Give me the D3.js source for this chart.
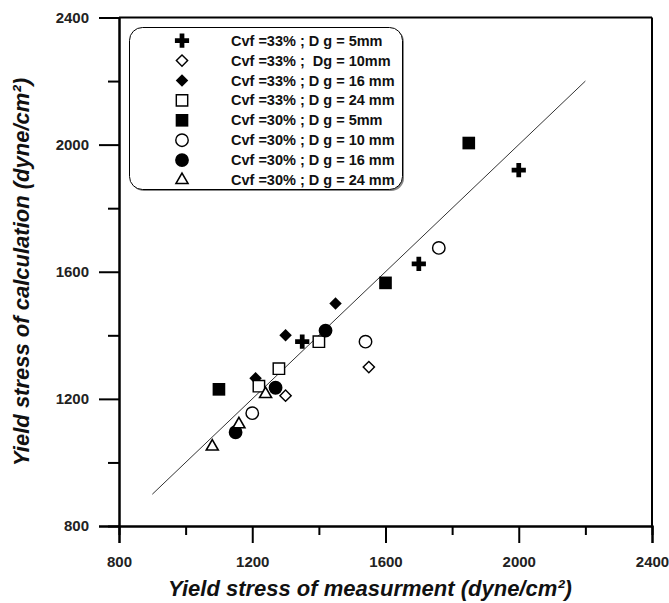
<!DOCTYPE html>
<html>
<head>
<meta charset="utf-8">
<script src="https://cdn.jsdelivr.net/npm/d3@7"></script>
<style>
  body { margin: 0; background: #fff; }
  text { font-family: Arial, "Liberation Sans", sans-serif; }
</style>
</head>
<body>
<div id="chart"></div>
<script>
// legend labels, one per series
var labels = [
  "Cvf =33% ; D g = 5mm",
  "Cvf =33% ;  Dg = 10mm",
  "Cvf =33% ; D g = 16 mm",
  "Cvf =33% ; D g = 24 mm",
  "Cvf =30% ; D g = 5mm",
  "Cvf =30% ; D g = 10 mm",
  "Cvf =30% ; D g = 16 mm",
  "Cvf =30% ; D g = 24 mm"
]
var shapes = ["cross", "diamond", "diamond", "square", "square", "circle", "circle", "triangle"]
var filled = [true, false, true, false, true, false, true, false]

// measured (x) and calculated (y) yield stress, dyne/cm2
var measured = [
  [1350, 1700, 2000],
  [1300, 1550],
  [1210, 1300, 1450],
  [1220, 1280, 1400],
  [1100, 1600, 1850],
  [1200, 1540, 1760],
  [1150, 1270, 1420],
  [1080, 1160, 1240]
]
var calculated = [
  [1380, 1625, 1920],
  [1210, 1300],
  [1265, 1400, 1500],
  [1240, 1295, 1380],
  [1230, 1565, 2005],
  [1155, 1380, 1675],
  [1095, 1235, 1415],
  [1050, 1120, 1215]
]

var majorTicks = [800, 1200, 1600, 2000, 2400]
var minorTicks = [1000, 1400, 1800, 2200]
var fitLine = [900, 2200]  // y = x

var width = 669, height = 603

var svg = d3.select("#chart").append("svg")
    .attr("width", width)
    .attr("height", height)

var x = d3.scaleLinear().domain([800, 2400]).range([119, 652])
var y = d3.scaleLinear().domain([800, 2400]).range([526, 17.5])

function symbolPath(shape) {
  var gen = d3.symbol()
  if (shape == "cross") gen.type(d3.symbolCross).size(112)
  if (shape == "diamond") gen.type(d3.symbolSquare).size(78)
  if (shape == "square") gen.type(d3.symbolSquare).size(160)
  if (shape == "circle") gen.type(d3.symbolCircle).size(150)
  if (shape == "triangle") gen.type(d3.symbolTriangle).size(62)
  return gen()
}

function drawSymbol(g, i, px, py) {
  var rot = shapes[i] == "diamond" ? " rotate(45)" : ""
  var open = !filled[i]
  var shrink = open && shapes[i] != "triangle" ? " scale(0.9)" : ""
  g.append("path")
    .attr("d", symbolPath(shapes[i]))
    .attr("transform", "translate(" + px + "," + py + ")" + rot + shrink)
    .style("fill", open ? "#fff" : "#000")
    .style("stroke", "#000")
    .style("stroke-width", open ? 1.6 : 0)
}

// frame: top and right plain lines
svg.append("line")
  .attr("x1", x(800)).attr("x2", x(2400))
  .attr("y1", y(2400)).attr("y2", y(2400))
  .style("stroke", "#000").style("stroke-width", 2)
svg.append("line")
  .attr("x1", x(2400)).attr("x2", x(2400))
  .attr("y1", y(2400)).attr("y2", y(800))
  .style("stroke", "#000").style("stroke-width", 2)

// axes
var xAxis = svg.append("g")
    .attr("transform", "translate(0," + y(800) + ")")
    .call(d3.axisBottom(x).tickValues(majorTicks).tickSize(17).tickPadding(13).tickFormat(d3.format("d")))
var xMinor = svg.append("g")
    .attr("transform", "translate(0," + y(800) + ")")
    .call(d3.axisBottom(x).tickValues(minorTicks).tickSize(9).tickFormat(""))
var yAxis = svg.append("g")
    .attr("transform", "translate(" + x(800) + ",0)")
    .call(d3.axisLeft(y).tickValues(majorTicks).tickSize(20).tickPadding(10).tickFormat(d3.format("d")))
var yMinor = svg.append("g")
    .attr("transform", "translate(" + x(800) + ",0)")
    .call(d3.axisLeft(y).tickValues(minorTicks).tickSize(11).tickFormat(""))

svg.selectAll(".domain").style("stroke-width", 2)
svg.selectAll(".tick line").style("stroke-width", 2)
svg.selectAll(".tick text")
  .style("font-size", "15px")
  .style("font-weight", "bold")
  .style("fill", "#222")

// y = x line
svg.append("line")
  .attr("x1", x(fitLine[0])).attr("y1", y(fitLine[0]))
  .attr("x2", x(fitLine[1])).attr("y2", y(fitLine[1]))
  .style("stroke", "#333")
  .style("stroke-width", 1)

// data points
var pts = svg.append("g")
for (var i = 0; i < measured.length; i++) {
  for (var j = 0; j < measured[i].length; j++) {
    drawSymbol(pts, i, x(measured[i][j]), y(calculated[i][j]))
  }
}

// legend
var legend = svg.append("g")
legend.append("rect")
  .attr("x", 131).attr("y", 29)
  .attr("width", 273).attr("height", 162)
  .attr("rx", 13).attr("ry", 13)
  .style("fill", "#888")
legend.append("rect")
  .attr("x", 129.5).attr("y", 27.5)
  .attr("width", 273).attr("height", 162)
  .attr("rx", 13).attr("ry", 13)
  .style("fill", "#fff")
  .style("stroke", "#000")
  .style("stroke-width", 1)

for (var k = 0; k < labels.length; k++) {
  var ry = 40.7 + k * 19.9
  drawSymbol(legend, k, 182, ry)
  legend.append("text")
    .attr("x", 231)
    .attr("y", ry + 5)
    .attr("xml:space", "preserve")
    .style("white-space", "pre")
    .style("font-size", "14.5px")
    .style("font-weight", "bold")
    .style("fill", "#111")
    .text(labels[k])
}

// axis titles
svg.append("text")
  .attr("x", 370)
  .attr("y", 596)
  .attr("text-anchor", "middle")
  .style("font-size", "22px")
  .style("font-weight", "bold")
  .style("font-style", "italic")
  .style("fill", "#111")
  .text("Yield stress of measurment (dyne/cm²)")

svg.append("text")
  .attr("transform", "translate(29,272) rotate(-90)")
  .attr("text-anchor", "middle")
  .style("font-size", "22px")
  .style("font-weight", "bold")
  .style("font-style", "italic")
  .style("fill", "#111")
  .text("Yield stress of calculation (dyne/cm²)")
</script>
</body>
</html>
